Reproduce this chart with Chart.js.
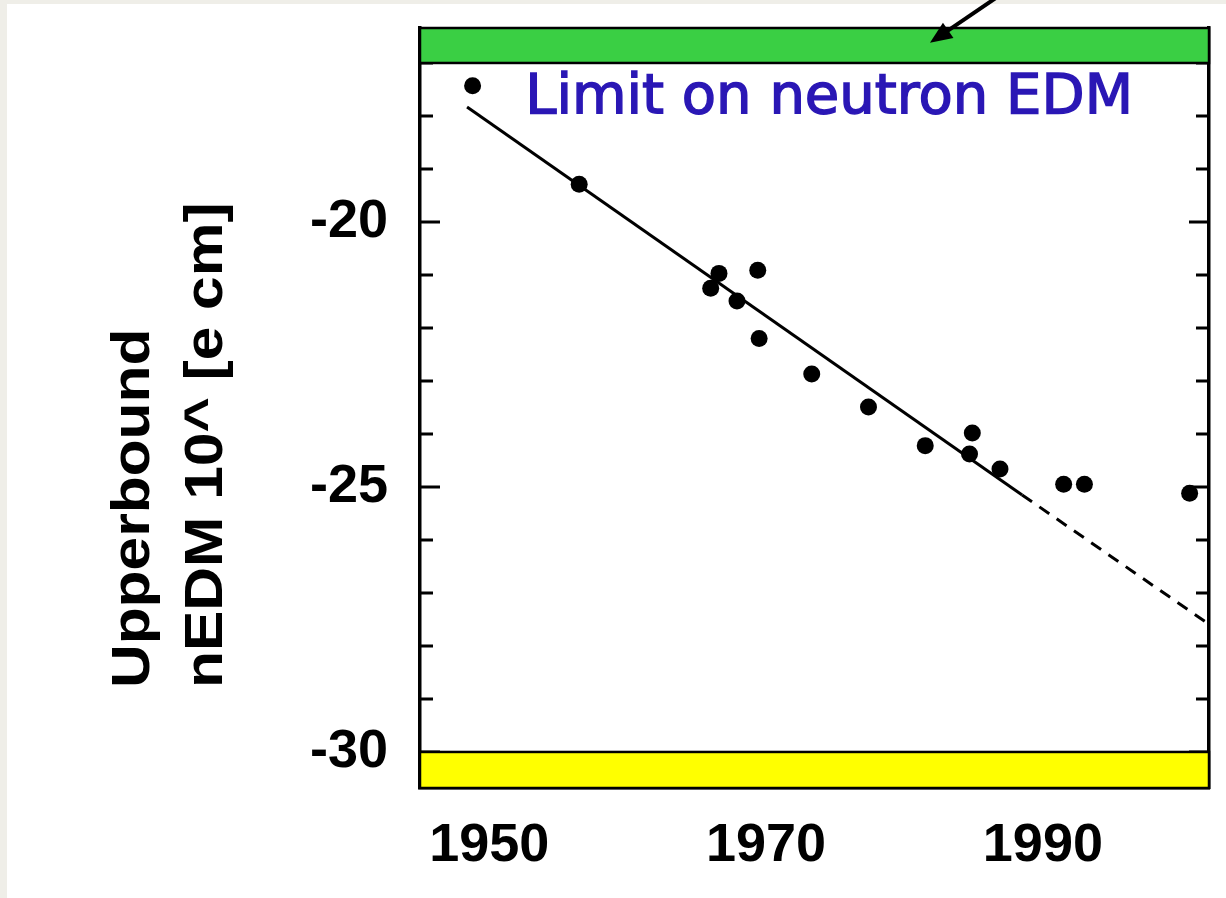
<!DOCTYPE html>
<html>
<head>
<meta charset="utf-8">
<script src="https://cdn.jsdelivr.net/npm/chart.js@4.4.0/dist/chart.umd.min.js"></script>
<style>
  html, body { margin: 0; padding: 0; background: #efeee8; }
  #edmChart { display: block; }
</style>
</head>
<body>
<canvas id="edmChart" width="1226" height="898"></canvas>
<script>
// measured upper limits on the neutron EDM, exponent of 10 in e cm
const years = [1948.8, 1956.5, 1966.0, 1966.6, 1967.9, 1969.4, 1969.5, 1973.3, 1977.4, 1981.5, 1984.7, 1984.9, 1986.9, 1991.5, 1993.0, 2000.6];
const limits = [-17.43, -19.29, -21.25, -20.97, -21.49, -20.91, -22.20, -22.87, -23.49, -24.22, -24.38, -23.98, -24.66, -24.95, -24.95, -25.12];

// trend line: solid over the data, dashed extrapolation after
const trendYears = [1948.4, 1988.5, 2002];
const trendLimits = [-17.83, -25.15, -27.59];

// axes
const xRange = [1945, 2002];
const yRange = [-30.68, -16.34];
const xTickYears = [1950, 1970, 1990];
const yTickValues = [-30, -29, -28, -27, -26, -25, -24, -23, -22, -21, -20, -19, -18, -17];
const yTickLabels = [-20, -25, -30];

// coloured bands top and bottom
const greenBand = [-17, -16.34];
const yellowBand = [-30.68, -30];

// annotations in data units
const noteText = 'Limit on neutron EDM';
const notePos = [1952.6, -17.94];
const arrowTail = [1986.9, -15.72];
const arrowTip = [1981.84, -16.62];

const FONT = '"Liberation Sans", Arial, sans-serif';

const decorations = {
  id: 'decorations',
  beforeDraw(chart) {
    const ctx = chart.ctx;
    ctx.save();
    ctx.fillStyle = '#efeee8';
    ctx.fillRect(0, 0, chart.width, chart.height);
    ctx.fillStyle = '#ffffff';
    ctx.fillRect(7, 4, chart.width - 7, chart.height - 4);
    ctx.restore();
  },
  afterDraw(chart) {
    const { ctx, chartArea: a, scales: { x, y } } = chart;
    ctx.save();

    // inward ticks on both sides
    ctx.strokeStyle = '#000';
    ctx.lineWidth = 3;
    yTickValues.forEach(v => {
      const py = y.getPixelForValue(v);
      const len = yTickLabels.includes(v) ? 20 : 13;
      ctx.beginPath();
      ctx.moveTo(a.left, py); ctx.lineTo(a.left + len, py);
      ctx.moveTo(a.right, py); ctx.lineTo(a.right - len, py);
      ctx.stroke();
    });

    // bands
    function band(range, color) {
      const top = y.getPixelForValue(range[1]);
      const bottom = y.getPixelForValue(range[0]);
      ctx.fillStyle = color;
      ctx.fillRect(a.left, top, a.right - a.left, bottom - top);
      ctx.lineWidth = 2.5;
      ctx.strokeStyle = '#000';
      ctx.strokeRect(a.left, top, a.right - a.left, bottom - top);
    }
    band(greenBand, '#3acf44');
    band(yellowBand, '#ffff00');

    // note (slightly emboldened)
    ctx.fillStyle = '#2a17b5';
    ctx.strokeStyle = '#2a17b5';
    ctx.lineWidth = 1.5;
    ctx.font = '56px "DejaVu Sans", sans-serif';
    ctx.textAlign = 'left';
    ctx.textBaseline = 'alphabetic';
    const nx = x.getPixelForValue(notePos[0]), ny = y.getPixelForValue(notePos[1]);
    ctx.fillText(noteText, nx, ny);
    ctx.strokeText(noteText, nx, ny);

    // arrow pointing at the green band
    const tx = x.getPixelForValue(arrowTip[0]), ty = y.getPixelForValue(arrowTip[1]);
    const sx = x.getPixelForValue(arrowTail[0]), sy = y.getPixelForValue(arrowTail[1]);
    const ang = Math.atan2(ty - sy, tx - sx);
    const head = 24;
    ctx.strokeStyle = '#000';
    ctx.lineWidth = 4;
    ctx.beginPath();
    ctx.moveTo(sx, sy);
    ctx.lineTo(tx - Math.cos(ang) * head * 0.7, ty - Math.sin(ang) * head * 0.7);
    ctx.stroke();
    ctx.fillStyle = '#000';
    ctx.beginPath();
    ctx.moveTo(tx, ty);
    ctx.lineTo(tx - head * Math.cos(ang - 0.4), ty - head * Math.sin(ang - 0.4));
    ctx.lineTo(tx - head * Math.cos(ang + 0.4), ty - head * Math.sin(ang + 0.4));
    ctx.closePath();
    ctx.fill();

    // y axis title, two rotated lines starting at the same height
    ctx.fillStyle = '#000';
    ctx.font = 'bold 54px ' + FONT;
    [['Upperbound', 149], ['nEDM 10^ [e cm]', 222]].forEach(([txt, bx]) => {
      ctx.save();
      ctx.translate(bx, 688);
      ctx.rotate(-Math.PI / 2);
      ctx.scale(1.12, 1);
      ctx.fillText(txt, 0, 0);
      ctx.restore();
    });

    ctx.restore();
  }
};

const ctx = document.getElementById('edmChart').getContext('2d');
const edmChart = new Chart(ctx, {
  type: 'scatter',
  data: {
    datasets: [{
      label: 'limits',
      data: years.map((t, i) => ({ x: t, y: limits[i] })),
      backgroundColor: '#000',
      borderWidth: 0,
      pointRadius: 8.5,
    }, {
      label: 'trend',
      data: trendYears.map((t, i) => ({ x: t, y: trendLimits[i] })),
      showLine: true,
      borderColor: '#000',
      borderWidth: 3,
      pointRadius: 0,
      segment: {
        borderDash: c => (c.p0DataIndex === 1 ? [12, 9] : undefined),
      },
    }],
  },
  options: {
    responsive: false,
    animation: false,
    layout: { padding: { top: 28, left: 0, right: 0, bottom: 0 } },
    plugins: { legend: { display: false }, tooltip: { enabled: false } },
    scales: {
      x: {
        type: 'linear',
        min: xRange[0],
        max: xRange[1],
        afterFit: s => { s.height = 110; s.paddingLeft = 0; s.paddingRight = 0; },
        afterBuildTicks: s => { s.ticks = xTickYears.map(v => ({ value: v })); },
        grid: { display: false, drawTicks: false },
        border: { display: true, color: '#000', width: 3.5 },
        ticks: {
          autoSkip: false,
          maxRotation: 0,
          padding: 26,
          color: '#000',
          font: { family: FONT, size: 54, weight: 'bold' },
          callback: v => String(v),
        },
      },
      y: {
        type: 'linear',
        position: 'left',
        min: yRange[0],
        max: yRange[1],
        afterFit: s => { s.width = 420; s.paddingTop = 0; s.paddingBottom = 0; },
        afterBuildTicks: s => { s.ticks = yTickValues.map(v => ({ value: v })); },
        grid: { display: false, drawTicks: false },
        border: { display: true, color: '#000', width: 3.5 },
        ticks: {
          autoSkip: false,
          padding: 32,
          color: '#000',
          font: { family: FONT, size: 54, weight: 'bold' },
          callback: v => (yTickLabels.includes(v) ? String(v) : ''),
        },
      },
      y2: {
        type: 'linear',
        position: 'right',
        min: yRange[0],
        max: yRange[1],
        afterFit: s => { s.width = 17; s.paddingTop = 0; s.paddingBottom = 0; },
        grid: { display: false, drawTicks: false },
        border: { display: true, color: '#000', width: 3.5 },
        ticks: { display: false },
      },
    },
  },
  plugins: [decorations],
});
</script>
</body>
</html>
